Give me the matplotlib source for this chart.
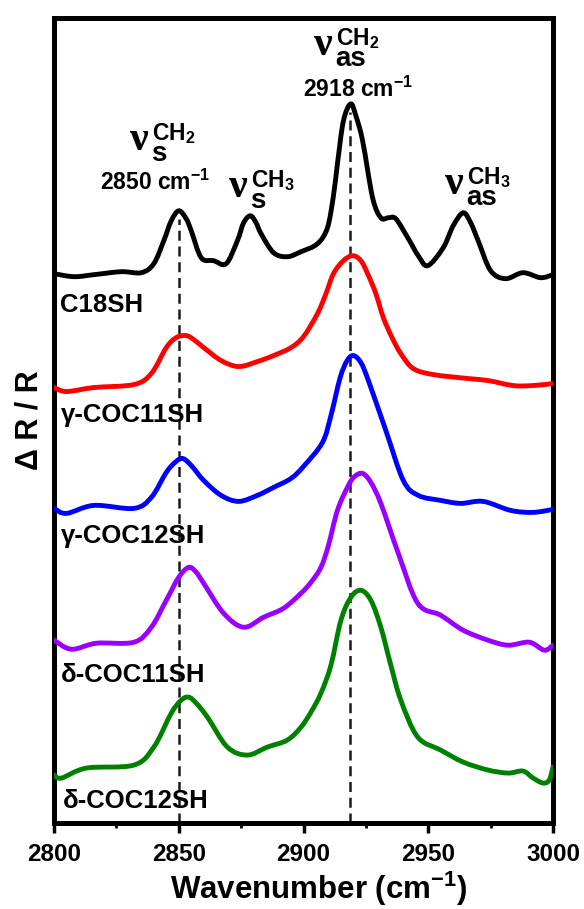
import numpy as np
import matplotlib
matplotlib.use("Agg")
import matplotlib.pyplot as plt
from matplotlib.ticker import MultipleLocator
from matplotlib.path import Path
from matplotlib.patches import PathPatch

plt.rcParams['font.family'] = ['Liberation Sans', 'DejaVu Sans']
plt.rcParams['font.weight'] = 'bold'
plt.rcParams['mathtext.fontset'] = 'custom'
plt.rcParams['mathtext.rm'] = 'Liberation Sans:bold'
plt.rcParams['mathtext.bf'] = 'Liberation Sans:bold'
plt.rcParams['mathtext.default'] = 'rm'

# spectra (wavenumber in cm-1, offset dR/R in arbitrary units)
c18_x = [2800, 2808, 2816, 2827, 2835, 2840, 2844, 2847, 2850, 2853, 2855, 2859, 2864, 2869,
         2873.5, 2876, 2878.7, 2881, 2883, 2888, 2893.5, 2899, 2905.6, 2909.6, 2912, 2913.6,
         2916, 2918.9, 2921, 2923.7, 2927.7, 2931, 2934, 2937, 2941.8, 2946, 2949.8, 2956,
         2960, 2964, 2967, 2970, 2975, 2981, 2988, 2995, 3000]
c18_y = [5.49, 5.46, 5.48, 5.51, 5.50, 5.59, 5.82, 6.02, 6.12, 6.04, 5.92, 5.65, 5.62, 5.59,
         5.82, 6.00, 6.07, 6.00, 5.89, 5.70, 5.66, 5.71, 5.79, 5.95, 6.27, 6.59,
         7.02, 7.19, 7.07, 6.82, 6.25, 6.05, 6.05, 6.04, 5.85, 5.67, 5.57, 5.75,
         5.97, 6.10, 6.00, 5.82, 5.52, 5.44, 5.50, 5.45, 5.48]

g11_x = [2800, 2805, 2816, 2832, 2839, 2845, 2849, 2853, 2856, 2860, 2867, 2874, 2881.5, 2888,
         2895, 2900, 2905.6, 2909, 2912, 2916, 2919.7, 2923, 2925.7, 2929, 2932, 2935.5, 2939,
         2944, 2952, 2966, 2974, 2984, 2992, 3000]
g11_y = [4.35, 4.31, 4.35, 4.38, 4.49, 4.75, 4.85, 4.87, 4.83, 4.75, 4.62, 4.56, 4.61, 4.67,
         4.75, 4.86, 5.09, 5.29, 5.49, 5.62, 5.67, 5.62, 5.49, 5.29, 5.05, 4.85, 4.69,
         4.54, 4.48, 4.44, 4.42, 4.37, 4.37, 4.39]

g12_x = [2800, 2805, 2816, 2832, 2839, 2845, 2848.5, 2851.5, 2855, 2860, 2867, 2874, 2881.5,
         2888, 2895, 2900, 2907.6, 2911, 2914.7, 2917.5, 2920, 2923, 2926, 2933, 2940, 2946,
         2955, 2963, 2972, 2983, 2992, 3000]
g12_y = [3.14, 3.09, 3.17, 3.14, 3.25, 3.50, 3.60, 3.64, 3.57, 3.42, 3.27, 3.21, 3.27,
         3.35, 3.44, 3.56, 3.80, 4.07, 4.45, 4.62, 4.67, 4.60, 4.42, 3.92, 3.42, 3.27,
         3.22, 3.19, 3.21, 3.12, 3.10, 3.13]

d11_x = [2800, 2807, 2817, 2832, 2839, 2845, 2850, 2854, 2857, 2860, 2868, 2876, 2884, 2892,
         2899, 2903, 2907, 2910, 2913.6, 2918, 2920.5, 2923.7, 2927, 2931, 2938, 2945.8, 2955,
         2964, 2974, 2982, 2990.5, 2996.5, 3000]
d11_y = [1.82, 1.73, 1.79, 1.80, 1.95, 2.22, 2.45, 2.55, 2.50, 2.39, 2.09, 1.95, 2.05, 2.14,
         2.29, 2.40, 2.55, 2.77, 3.12, 3.37, 3.46, 3.49, 3.40, 3.19, 2.69, 2.19, 2.07,
         1.92, 1.82, 1.77, 1.80, 1.72, 1.77]

d12_x = [2800, 2803, 2813, 2832, 2840, 2847, 2851, 2854, 2857, 2861.5, 2869.5, 2877.5, 2885.5,
         2893.5, 2899, 2903, 2907, 2911, 2915, 2919, 2923, 2927, 2931, 2935, 2939, 2945.8,
         2955, 2964, 2974, 2982, 2988, 2992, 2996, 2998.5, 3000]
d12_y = [0.47, 0.44, 0.54, 0.57, 0.75, 1.09, 1.22, 1.25, 1.19, 1.05, 0.75, 0.67, 0.75,
         0.82, 0.95, 1.10, 1.29, 1.57, 2.02, 2.25, 2.32, 2.22, 1.95, 1.57, 1.22, 0.85,
         0.72, 0.60, 0.52, 0.49, 0.51, 0.44, 0.39, 0.42, 0.55]

names = ['C18SH', 'γ-COC11SH', 'γ-COC12SH', 'δ-COC11SH', 'δ-COC12SH']
colors = ['black', '#ff0000', '#0000ff', '#9900ff', '#008000']
peaks = [2850, 2918.8]  # dashed guide lines as drawn in the figure
peak_labels = ['2850 cm$^{-1}$', '2918 cm$^{-1}$']

W, H = 584, 909
fig = plt.figure(figsize=(W / 100, H / 100), dpi=100)
ax = fig.add_axes([54 / W, 1 - 823 / H, (553 - 54) / W, (823 - 18) / H])


def spline_path(x, y):
    # smooth (Catmull-Rom style) connection through the read points
    p = np.column_stack([x, y])
    ext = np.vstack([p[0], p, p[-1]])
    verts = [p[0]]
    codes = [Path.MOVETO]
    for i in range(1, len(ext) - 2):
        p0, p1, p2, p3 = ext[i - 1], ext[i], ext[i + 1], ext[i + 2]
        verts += [p1 + (p2 - p0) / 6, p2 - (p3 - p1) / 6, p2]
        codes += [Path.CURVE4] * 3
    return Path(verts, codes)


xs = [c18_x, g11_x, g12_x, d11_x, d12_x]
ys = [c18_y, g11_y, g12_y, d11_y, d12_y]
for x, y, c in zip(xs, ys, colors):
    ax.add_patch(PathPatch(spline_path(x, y), fill=False, edgecolor=c, lw=3.5,
                           capstyle='round', joinstyle='round', zorder=3))

for pk in peaks:
    top = np.interp(pk, c18_x, c18_y) - 0.08
    ax.plot([pk, pk], [-0.01, top], color='#1a1a1a', lw=1.8, ls=(0, (4, 2.3)), zorder=2)

ax.set_xlim(2800, 3000)
ax.set_ylim(-0.01, 8.05)
ax.xaxis.set_major_locator(MultipleLocator(50))
ax.xaxis.set_minor_locator(MultipleLocator(25))
ax.set_yticks([])
ax.tick_params(axis='x', which='major', direction='out', length=7, width=2.5,
               labelsize=17.5, pad=7.5)
ax.tick_params(axis='x', which='minor', direction='out', length=3.5, width=2)
for s in ax.spines.values():
    s.set_linewidth(3.6)
ax.set_xlabel('Wavenumber (cm$^{-1}$)', fontsize=22.5, fontweight='bold')
ax.xaxis.set_label_coords(0.53, -0.058)
ax.set_ylabel('Δ R / R', fontsize=22, fontweight='bold', labelpad=7)


def px(x, y):
    return x / W, 1 - y / H


# curve names (left x, baseline y in pixels)
name_pos = [(60, 312), (61, 422), (61, 543), (61, 682), (63, 808)]
for nm, (lx, by) in zip(names, name_pos):
    fig.text(*px(lx, by), nm, fontsize=18.5, fontweight='bold', va='baseline', ha='left')


def nu_label(x0, base, sub, sup, digit):
    fig.text(*px(x0, base), 'ν', family='Liberation Serif', fontweight='bold',
             fontsize=30, va='baseline', ha='left')
    fig.text(*px(x0 + 21, base + 11), sub, fontsize=20, fontweight='bold',
             va='baseline', ha='left')
    fig.text(*px(x0 + 22, base - 10), sup + '$_{' + digit + '}$', fontsize=16.5,
             fontweight='bold', va='baseline', ha='left')


nu_label(130, 150, 's', 'CH', '2')
nu_label(229, 197, 's', 'CH', '3')
nu_label(314, 55, 'as', 'CH', '2')
nu_label(445, 194, 'as', 'CH', '3')

fig.text(*px(155, 190), peak_labels[0], fontsize=16.5, fontweight='bold', va='baseline', ha='center')
fig.text(*px(358, 97), peak_labels[1], fontsize=16.5, fontweight='bold', va='baseline', ha='center')

fig.savefig('out.png', dpi=100)
